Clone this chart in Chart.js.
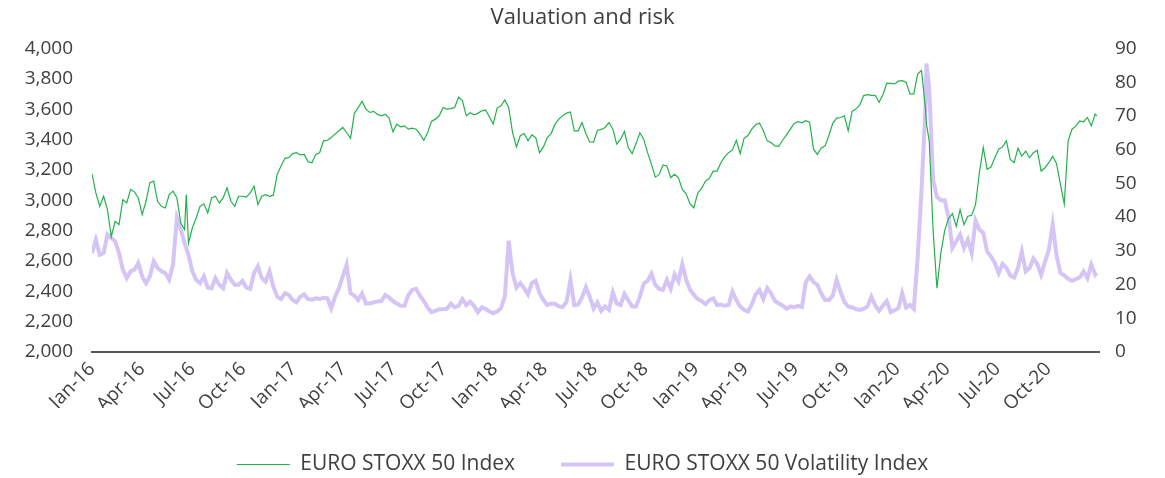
<!DOCTYPE html>
<html><head><meta charset="utf-8">
<script src="https://cdn.jsdelivr.net/npm/chart.js@4.4.1/dist/chart.umd.min.js"></script>
<style>html,body{margin:0;padding:0;background:#fff;}canvas{display:block;}</style>
</head><body>
<canvas id="c" width="1165" height="478"></canvas>
<script>
// x positions: days since 1 Jan 2016
const days = [
0,7,14,21,28,35,42,49,56,63,70,77,84,91,98,105,112,119,126,133,140,147,154,161,168,171,
175,182,189,196,203,210,217,224,231,238,245,252,259,266,273,280,287,294,301,308,315,322,329,336,343,350,357,364,
371,378,385,392,399,406,413,420,427,434,441,448,455,462,469,476,483,490,497,504,511,518,525,532,539,546,553,560,567,574,581,588,595,602,609,616,623,630,637,644,651,658,665,672,679,686,693,700,707,714,721,728,
735,742,749,756,763,770,777,784,791,798,805,812,819,826,833,840,847,854,861,868,875,882,889,896,903,910,917,924,931,938,945,952,959,966,973,980,987,994,1001,1008,1015,1022,1029,1036,1043,1050,1057,1064,1071,1078,1085,1092,
1099,1106,1113,1120,1127,1134,1141,1148,1155,1162,1169,1176,1183,1190,1197,1204,1211,1218,1225,1232,1239,1246,1253,1260,1267,1274,1281,1288,1295,1302,1309,1316,1323,1330,1337,1344,1351,1358,1365,1372,1379,1386,1393,1400,1407,1414,1421,1428,1435,1442,1449,1456,
1463,1470,1477,1484,1491,1498,1505,1512,1514,1519,1526,1533,1540,1547,1554,1561,1568,1575,1582,1589,1596,1603,1610,1617,1624,1631,1638,1645,1652,1659,1666,1673,1680,1687,1694,1701,1708,1715,1722,1729,1736,1743,1750,1757,1764,1771,1778,1785,1792,1799,1806,1813,1820,1823
];

const stoxx50 = [
3174,3048,2960,3026,2938,2760,2861,2839,3004,2982,
3071,3055,3015,2905,2993,3115,3126,2993,2960,2949,
3037,3060,3015,2850,2806,3037,
2717,2817,2883,2960,2976,2916,3015,3026,2982,3015,
3082,2993,2960,3026,3026,3020,3048,3093,2971,3026,
3037,3026,3033,3170,3225,3276,3280,3307,3313,3298,
3302,3254,3247,3302,3313,3391,3395,3413,3435,3457,
3479,3446,3408,3572,3611,3651,3600,3578,3585,3565,
3556,3567,3541,3450,3501,3483,3490,3468,3475,3468,
3435,3395,3446,3519,3534,3556,3611,3600,3603,3611,
3678,3656,3556,3576,3563,3572,3589,3594,3550,3501,
3607,3622,3660,3611,3446,3351,3425,3439,3391,3430,
3413,3313,3351,3413,3439,3501,3534,3556,3574,3581,
3457,3457,3512,3439,3384,3382,3461,3466,3479,3512,
3468,3369,3402,3452,3347,3307,3373,3444,3402,3313,
3236,3152,3170,3232,3225,3148,3170,3148,3071,3042,
2976,2950,3048,3077,3126,3143,3192,3192,3247,3287,
3313,3331,3395,3307,3408,3426,3468,3497,3508,3457,
3391,3380,3358,3355,3395,3430,3468,3506,3517,3510,
3524,3514,3336,3302,3342,3358,3428,3506,3541,3545,
3556,3457,3585,3600,3627,3689,3695,3691,3691,3645,
3695,3770,3770,3766,3784,3788,3777,3700,3700,3832,
3854,3611,3500,
3391,2800,2420,2650,2800,2880,2912,2828,2938,2839,
2894,2901,2971,3181,3347,3203,3218,3280,3336,3351,
3391,3269,3247,3342,3291,3324,3280,3313,3329,3192,
3214,3247,3289,3241,3104,2975,3391,3468,3488,3523,
3517,3545,3490,3567,3556
];

const vstoxx = [
29.3,33.3,28.8,29.3,34.8,33.8,32.8,29.3,24.4,21.9,
23.9,24.4,26.4,22.4,20.4,22.4,26.9,24.9,23.9,23.4,
21.4,25.9,39.8,36.3,32.3,30.8,
28.8,23.9,21.4,20.4,22.4,19.1,18.9,21.9,19.9,18.9,
23.4,21.4,19.9,19.9,21.1,19.1,18.7,23.4,25.4,21.9,
20.9,23.9,19.4,16.4,15.7,17.4,16.9,15.4,14.7,16.4,
17.1,15.7,15.5,15.9,15.7,16.1,15.9,12.9,16.4,18.9,
22.4,25.9,17.4,16.7,15.4,17.4,14.4,14.4,14.7,15.0,
15.1,16.9,16.1,15.1,14.4,13.7,13.7,16.9,18.4,18.7,
16.7,15.1,13.2,11.8,12.2,12.7,12.7,12.8,14.3,13.3,
13.7,15.7,13.9,14.9,13.7,11.8,13.2,12.8,12.0,11.5,
12.0,13.0,16.4,33.0,23.4,19.1,20.4,18.9,17.1,20.4,
21.1,17.4,15.4,13.9,14.4,14.3,13.5,13.3,14.9,21.4,
13.9,14.1,16.2,19.2,16.4,12.9,14.7,12.2,13.5,12.5,
17.7,14.4,13.9,17.2,15.3,13.5,13.5,16.4,20.3,21.1,
23.2,19.9,18.7,18.4,21.4,18.7,23.0,20.9,26.0,21.4,
18.5,16.9,15.7,15.1,14.2,15.4,15.9,13.9,14.1,13.7,
14.0,17.9,15.4,13.5,12.5,12.0,14.0,17.1,18.4,15.7,
18.9,17.4,15.1,14.4,13.8,12.8,13.5,13.3,13.7,13.3,
20.6,22.4,20.7,19.9,17.4,15.4,15.4,16.7,21.4,17.9,
14.9,13.5,13.2,12.7,12.5,12.8,13.5,16.4,13.8,12.2,
13.8,15.1,11.8,12.4,13.0,17.4,13.2,14.0,12.8,28.0,
48.0,72.0,85.5,
78.0,51.0,46.0,45.0,45.0,40.0,30.8,32.8,34.8,30.8,
33.3,29.3,39.0,36.3,35.3,29.8,28.3,26.4,23.4,26.1,
24.9,22.7,22.1,24.9,29.8,23.9,24.9,27.7,26.1,22.9,
26.7,30.3,37.8,28.6,23.4,22.7,21.7,21.1,21.6,22.1,
23.9,21.9,25.9,22.9,23.4
];

const tickDays = [0,91,182,274,366,456,547,639,731,821,912,1004,1096,1186,1277,1369,1461,1552,1643,1735];
const tickLabels = ['Jan-16','Apr-16','Jul-16','Oct-16','Jan-17','Apr-17','Jul-17','Oct-17','Jan-18','Apr-18','Jul-18','Oct-18','Jan-19','Apr-19','Jul-19','Oct-19','Jan-20','Apr-20','Jul-20','Oct-20'];
const seriesNames = ['EURO STOXX 50 Index','EURO STOXX 50 Volatility Index'];
const chartTitle = 'Valuation and risk';

const F = "'Open Sans', 'Noto Sans', sans-serif";
const TXT = '#404040';
const n = Math.min(days.length, stoxx50.length, vstoxx.length);
const pts = (arr) => { const o = []; for (let i = 0; i < n; i++) o.push({x: days[i], y: arr[i]}); return o; };

new Chart(document.getElementById('c').getContext('2d'), {
  type: 'line',
  data: {
    datasets: [
      {label: seriesNames[0], data: pts(stoxx50), borderColor: '#22b24c', backgroundColor: '#22b24c', borderWidth: 1.2, pointRadius: 0, tension: 0, yAxisID: 'y'},
      {label: seriesNames[1], data: pts(vstoxx), borderColor: '#d5c5f6', backgroundColor: '#d5c5f6', borderWidth: 4, pointRadius: 0, tension: 0, yAxisID: 'y1'}
    ]
  },
  options: {
    responsive: false, animation: false, devicePixelRatio: 1,
    layout: {padding: {left: 0, right: 0, top: 0, bottom: -7}},
    plugins: {
      title: {display: true, text: chartTitle, color: TXT, font: {family: F, size: 22, weight: 'normal'}, padding: {top: 5, bottom: 17}},
      legend: {position: 'bottom', labels: {usePointStyle: true, pointStyle: 'line', pointStyleWidth: 53, color: TXT, font: {family: F, size: 21}, padding: 46}},
      tooltip: {enabled: false}
    },
    scales: {
      x: {
        type: 'linear', min: 0, max: 1827,
        grid: {display: false, drawTicks: false},
        border: {display: true, color: '#595959', width: 2},
        afterBuildTicks: (s) => { s.ticks = tickDays.map(v => ({value: v})); },
        ticks: {autoSkip: false, maxRotation: 45, minRotation: 45, padding: 6, color: TXT, font: {family: F, size: 19},
                callback: (v, i) => tickLabels[i]},
        afterFit: (s) => { s.height = 56; }
      },
      y: {
        position: 'left', min: 2000, max: 4000,
        grid: {display: false, drawTicks: false}, border: {display: false},
        ticks: {stepSize: 200, padding: 19, color: TXT, font: {family: F, size: 19}, callback: (v) => v.toLocaleString('en-US')},
        afterFit: (s) => { s.width = 92; }
      },
      y1: {
        position: 'right', min: 0, max: 90,
        grid: {display: false, drawTicks: false}, border: {display: false},
        ticks: {stepSize: 10, padding: 16, color: TXT, font: {family: F, size: 19}},
        afterFit: (s) => { s.width = 66; }
      }
    }
  }
});
</script>
</body></html>
